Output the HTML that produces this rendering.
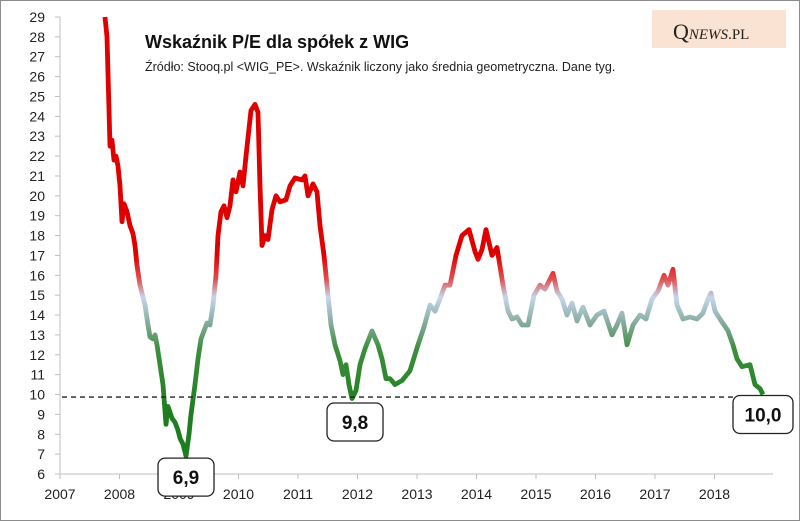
<!DOCTYPE html>
<html><head><meta charset="utf-8"><style>
body{margin:0;background:#fff;font-family:"Liberation Sans",sans-serif}
svg{display:block}
</style></head><body>
<svg id="chart" width="800" height="521" viewBox="0 0 800 521">
<defs>
<linearGradient id="lg" gradientUnits="userSpaceOnUse" x1="0" y1="0" x2="0" y2="521">
<stop id="s0" offset="0" stop-color="#e00000"/>
</linearGradient>
</defs>
<rect x="0.5" y="0.5" width="799" height="520" fill="#fff" stroke="#8c8c8c"/>
<g id="axes"></g>
<path id="series" fill="none" stroke="url(#lg)" stroke-width="4.8" stroke-linejoin="round"/>
<line id="ref" stroke="#222" stroke-width="1.4" stroke-dasharray="5,4"/>
<text x="145" y="48" font-size="18" font-weight="bold" fill="#111">Wskaźnik P/E dla spółek z WIG</text>
<text x="145" y="71" font-size="12.5" fill="#222">Źródło: Stooq.pl &lt;WIG_PE&gt;. Wskaźnik liczony jako średnia geometryczna. Dane tyg.</text>
<rect x="652" y="10" width="134" height="38" fill="#fbe3d3"/>
<text x="673" y="39" font-size="22" font-family="Liberation Serif,serif" fill="#222">Q<tspan font-size="15" font-style="italic">NEWS</tspan><tspan font-size="15">.PL</tspan></text>
<g id="ann"></g>
</svg>
<script>
const years=[2007.756,2007.79,2007.84,2007.874,2007.908,2007.941,2007.975,2008.008,2008.042,2008.076,2008.126,2008.176,2008.227,2008.26,2008.294,2008.345,2008.429,2008.479,2008.513,2008.563,2008.597,2008.63,2008.681,2008.731,2008.782,2008.815,2008.882,2008.933,2008.983,2009.017,2009.067,2009.118,2009.168,2009.202,2009.269,2009.319,2009.37,2009.42,2009.471,2009.521,2009.571,2009.622,2009.655,2009.706,2009.756,2009.807,2009.857,2009.908,2009.958,2010.025,2010.076,2010.126,2010.21,2010.277,2010.328,2010.361,2010.395,2010.445,2010.496,2010.563,2010.63,2010.697,2010.798,2010.866,2010.95,2011.067,2011.118,2011.168,2011.252,2011.319,2011.37,2011.437,2011.504,2011.555,2011.622,2011.706,2011.756,2011.807,2011.857,2011.908,2011.975,2012.042,2012.126,2012.244,2012.345,2012.412,2012.479,2012.546,2012.63,2012.748,2012.882,2013.017,2013.118,2013.218,2013.303,2013.387,2013.471,2013.555,2013.655,2013.756,2013.874,2013.975,2014.025,2014.092,2014.16,2014.26,2014.345,2014.445,2014.529,2014.597,2014.681,2014.765,2014.866,2014.966,2015.067,2015.151,2015.286,2015.353,2015.437,2015.521,2015.605,2015.689,2015.79,2015.908,2016.025,2016.143,2016.277,2016.361,2016.445,2016.529,2016.63,2016.748,2016.849,2016.95,2017.05,2017.151,2017.218,2017.303,2017.37,2017.471,2017.588,2017.706,2017.807,2017.891,2017.941,2018.008,2018.092,2018.227,2018.311,2018.378,2018.462,2018.597,2018.681,2018.765,2018.815];
const peValues=[29,28,22.5,22.8,21.8,22,21.5,20.5,18.7,19.6,19.2,18.5,18.1,17.5,16.5,15.5,14.5,13.5,12.9,12.8,13,12.5,11.5,10.5,8.5,9.4,8.8,8.6,8.2,7.8,7.5,6.9,8,9,10.5,11.8,12.8,13.2,13.6,13.5,14.5,16,18,19.2,19.5,18.9,19.5,20.8,20.2,21.2,20.5,22,24.3,24.6,24.2,20.5,17.5,18,17.8,19.3,20,19.7,19.8,20.5,20.9,20.8,21,20,20.6,20.2,18.5,17,15,13.5,12.5,11.7,11,11.5,10.5,9.8,10.2,11.5,12.3,13.2,12.5,11.8,10.8,10.8,10.5,10.7,11.2,12.5,13.4,14.5,14.2,14.8,15.5,15.5,17,18,18.3,17.2,16.8,17.3,18.3,17,17.4,15.5,14.2,13.8,13.9,13.5,13.5,15,15.5,15.3,16.1,15.2,14.8,14,14.6,13.7,14.4,13.5,14,14.2,13,13.5,14.1,12.5,13.5,14,13.8,14.8,15.2,16,15.5,16.3,14.5,13.8,13.9,13.8,14.1,14.8,15.1,14.2,13.8,13.2,12.5,11.8,11.4,11.5,10.5,10.3,10.0];
const yTicks=[6,7,8,9,10,11,12,13,14,15,16,17,18,19,20,21,22,23,24,25,26,27,28,29];
const xTicks=[2007,2008,2009,2010,2011,2012,2013,2014,2015,2016,2017,2018];
const refValue=9.87;
const annYears=[2009.118,2011.908,2018.815];
const annValues=[6.9,9.8,10.0];
const annLabels=["6,9","9,8","10,0"];
const annOffsets=[[0,21],[3,23.5],[0,20]];

const X=v=>60+(v-2007)*59.5;
const Y=v=>474-(v-6)*19.87;
const NS="http://www.w3.org/2000/svg";
function mk(t,a,p){const e=document.createElementNS(NS,t);for(const k in a)e.setAttribute(k,a[k]);p.appendChild(e);return e;}
const ax=document.getElementById('axes');
let yl=mk('line',{x1:60,y1:Y(29),x2:60,y2:474,stroke:'#bfbfbf'},ax);


let xl=mk('line',{x1:60,y1:474,x2:773,y2:474,stroke:'#bfbfbf'},ax);


yTicks.forEach(v=>{
 mk('line',{x1:55,y1:Y(v),x2:60,y2:Y(v),stroke:'#bfbfbf'},ax);
 const t=mk('text',{x:45,y:Y(v)+5,'text-anchor':'end','font-size':14,fill:'#222'},ax);t.textContent=v;
 
 
});
xTicks.forEach(v=>{
 mk('line',{x1:X(v),y1:474,x2:X(v),y2:479,stroke:'#bfbfbf'},ax);
 const t=mk('text',{x:X(v),y:499,'text-anchor':'middle','font-size':14,fill:'#222'},ax);t.textContent=v;
 
 
});
const lg=document.getElementById('lg');lg.innerHTML='';
[[17,'#e00000'],[15.8,'#e05050'],[14.9,'#c5d6ee'],[13.6,'#86ab9d'],[12.3,'#3c8f3c'],[9,'#1e7d1e']].forEach(([v,c])=>{
 mk('stop',{offset:(Y(v)/521).toFixed(4),'stop-color':c},lg);
});
document.getElementById('series').setAttribute('d',years.map((y,i)=>(i?'L':'M')+X(y).toFixed(1)+','+Y(peValues[i]).toFixed(1)).join(''));
const r=document.getElementById('ref');
r.setAttribute('x1',62);r.setAttribute('x2',773);r.setAttribute('y1',Y(refValue));r.setAttribute('y2',Y(refValue));
const an=document.getElementById('ann');
annLabels.forEach((l,i)=>{
 const cx=X(annYears[i])+annOffsets[i][0], cy=Y(annValues[i])+annOffsets[i][1];
 const w=l.length>3?60:56;
 const b=mk('rect',{x:cx-w/2,y:cy-19,width:w,height:38,rx:7,fill:'#fff',stroke:'#222','stroke-width':1.3},an);
 
 
 const t=mk('text',{x:cx,y:cy+7,'text-anchor':'middle','font-size':19,'font-weight':'bold',fill:'#111'},an);t.textContent=l;
 
 
});
</script>
</body></html>
